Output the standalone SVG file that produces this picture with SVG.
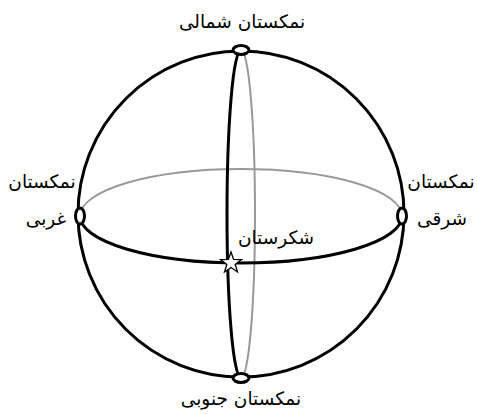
<svg xmlns="http://www.w3.org/2000/svg" width="477" height="414" viewBox="0 0 477 414">
<style>
.k{fill:none;stroke:#000;stroke-width:3}
.g{fill:none;stroke:#999;stroke-width:2}
.p{fill:#fff;stroke:#000;stroke-width:3}
text{font-family:"DejaVu Sans",sans-serif;font-size:18.5px;fill:#000;text-anchor:middle;direction:rtl}
</style>
<rect width="477" height="414" fill="#fff"/>
<g id="connectors">
<path class="g" d="M80,216 A161,47 0 0 1 402,216"/>
<path class="g" d="M241,50 A14,164 0 0 1 241,378"/>
<circle class="k" cx="241" cy="214" r="163"/>
<path class="k" d="M80,216 A161,47 0 0 0 402,216"/>
<path class="k" d="M241,50 A14,164 0 0 0 241,378"/>
</g>
<g id="north"><ellipse class="p" cx="241" cy="50" rx="8" ry="4.5"/><text x="242" y="28">نمکستان شمالی</text></g>
<g id="south"><ellipse class="p" cx="241" cy="378" rx="8" ry="4.5"/><text x="241" y="405">نمکستان جنوبی</text></g>
<g id="west"><ellipse class="p" cx="80" cy="216" rx="4.5" ry="8"/><text x="42" y="188">نمکستان</text><text x="46" y="225">غربی</text></g>
<g id="east"><ellipse class="p" cx="402" cy="216" rx="4.5" ry="8"/><text x="441" y="188">نمکستان</text><text x="442" y="225">شرقی</text></g>
<g id="city"><polygon fill="#fff" stroke="#000" stroke-width="1.3" points="231,252 233.6,259.4 241.5,259.6 235.2,264.4 237.5,272 231,267.5 224.5,272 226.8,264.4 220.5,259.6 228.4,259.4"/><text x="276" y="244">شکرستان</text></g>
</svg>
